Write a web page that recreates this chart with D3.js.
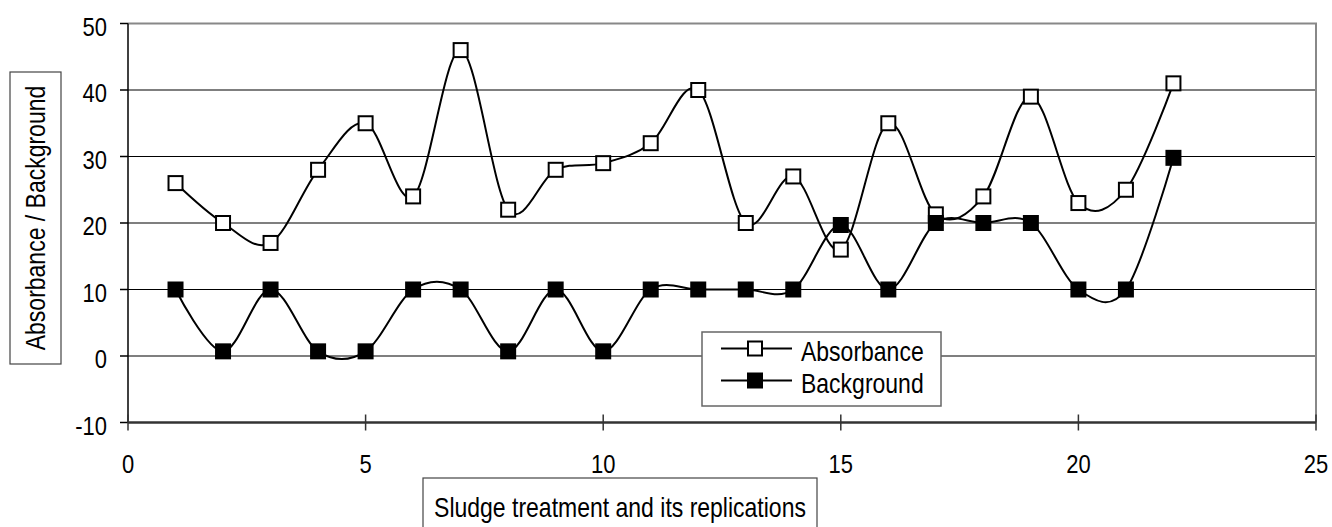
<!DOCTYPE html>
<html>
<head>
<meta charset="utf-8">
<script src="https://cdn.jsdelivr.net/npm/d3@7"></script>
<style>
  html, body { margin: 0; padding: 0; background: #fff; }
  svg { display: block; }
  text { font-family: "Liberation Sans", Arial, sans-serif; fill: #000; }
</style>
</head>
<body>
<svg id="chart" width="1332" height="527"></svg>
<script>
// ---- data ----
const xValues = [1,2,3,4,5,6,7,8,9,10,11,12,13,14,15,16,17,18,19,20,21,22];
const absorbance = [26,20,17,28,35,24,46,22,28,29,32,40,20,27,16,35,21.3,24,39,23,25,41];
const background = [10,0.7,10,0.7,0.7,10,10,0.7,10,0.7,10,10,10,10,19.7,10,20,20,20,10,10,29.8];
const seriesNames = ["Absorbance", "Background"];
const xTicks = [0,5,10,15,20,25];
const yTicks = [-10,0,10,20,30,40,50];
const xTitle = "Sludge treatment and its replications";
const yTitle = "Absorbance / Background";

// ---- layout ----
const svg = d3.select("#chart");
const pL = 128, pR = 1316, pT = 23.5, pB = 422.5;
const x = d3.scaleLinear().domain([0,25]).range([pL, pR]);
const y = d3.scaleLinear().domain([-10,50]).range([pB, pT]);
const SY = 1.2; // vertical stretch of glyphs

function txt(g, s, tx, ty, size, anchor, rot) {
  return g.append("text")
    .attr("transform", `translate(${tx},${ty})` + (rot ? ` rotate(${rot})` : "") + ` scale(1,${SY})`)
    .attr("text-anchor", anchor)
    .style("font-size", size + "px")
    .text(s);
}

// gridlines
svg.append("g").selectAll("line").data(yTicks.filter(t => t > -10 && t < 50)).join("line")
  .attr("x1", pL).attr("x2", pR)
  .attr("y1", d => y(d)).attr("y2", d => y(d))
  .attr("stroke", "#000").attr("stroke-width", 1.2);

// plot border top/right (gray)
svg.append("path")
  .attr("d", `M${pL},${y(50)}H${pR}V${pB}`)
  .attr("fill", "none").attr("stroke", "#888").attr("stroke-width", 2);

// y axis
svg.append("line").attr("x1", pL).attr("x2", pL).attr("y1", pT).attr("y2", pB)
  .attr("stroke", "#000").attr("stroke-width", 1.5);
svg.append("g").selectAll("line").data(yTicks).join("line")
  .attr("x1", pL - 8).attr("x2", pL)
  .attr("y1", d => y(d)).attr("y2", d => y(d))
  .attr("stroke", "#000").attr("stroke-width", 1.5);
const yl = svg.append("g");
yTicks.forEach(t => txt(yl, String(t), 107, y(t) + 12, 22, "end"));

// x axis
svg.append("line").attr("x1", pL).attr("x2", pR).attr("y1", pB).attr("y2", pB)
  .attr("stroke", "#333").attr("stroke-width", 2.5);
svg.append("g").selectAll("line").data(xTicks).join("line")
  .attr("x1", d => x(d)).attr("x2", d => x(d))
  .attr("y1", pB - 8).attr("y2", pB + 8)
  .attr("stroke", "#333").attr("stroke-width", 1.5);
const xl = svg.append("g");
xTicks.forEach(t => txt(xl, String(t), x(t), 473, 22, "middle"));

// lines
const line = d3.line().x((d,i) => x(xValues[i])).y(d => y(d)).curve(d3.curveCatmullRom.alpha(0));
[absorbance, background].forEach(s => {
  svg.append("path").attr("d", line(s)).attr("fill", "none")
    .attr("stroke", "#000").attr("stroke-width", 2);
});

// markers
const ms = 14;
svg.append("g").selectAll("rect").data(absorbance).join("rect")
  .attr("x", (d,i) => x(xValues[i]) - ms/2).attr("y", d => y(d) - ms/2)
  .attr("width", ms).attr("height", ms)
  .attr("fill", "#fff").attr("stroke", "#000").attr("stroke-width", 2);
svg.append("g").selectAll("rect").data(background).join("rect")
  .attr("x", (d,i) => x(xValues[i]) - ms/2).attr("y", d => y(d) - ms/2)
  .attr("width", ms).attr("height", ms)
  .attr("fill", "#000").attr("stroke", "#000").attr("stroke-width", 2);

// legend
const lg = svg.append("g");
lg.append("rect").attr("x", 702).attr("y", 332).attr("width", 239).attr("height", 74)
  .attr("fill", "#fff").attr("stroke", "#666").attr("stroke-width", 1.5);
const rows = [348.5, 380.5];
seriesNames.forEach((name, i) => {
  const cy = rows[i];
  lg.append("line").attr("x1", 721).attr("x2", 792).attr("y1", cy).attr("y2", cy)
    .attr("stroke", "#000").attr("stroke-width", 2);
  lg.append("rect").attr("x", 755 - 7).attr("y", cy - 7).attr("width", 14).attr("height", 14)
    .attr("fill", i === 0 ? "#fff" : "#000").attr("stroke", "#000").attr("stroke-width", 2);
  txt(lg, name, 801, cy + 12.5, 23, "start");
});

// y title box
svg.append("rect").attr("x", 10).attr("y", 72).attr("width", 51).attr("height", 292)
  .attr("fill", "#fff").attr("stroke", "#444").attr("stroke-width", 1.2);
txt(svg, yTitle, 35.5, 218, 23, "middle", -90).attr("y", 8.2);

// x title box
svg.append("rect").attr("x", 423).attr("y", 478).attr("width", 394).attr("height", 60)
  .attr("fill", "#fff").attr("stroke", "#444").attr("stroke-width", 1.2);
txt(svg, xTitle, 620, 517, 23, "middle");
</script>
</body>
</html>
